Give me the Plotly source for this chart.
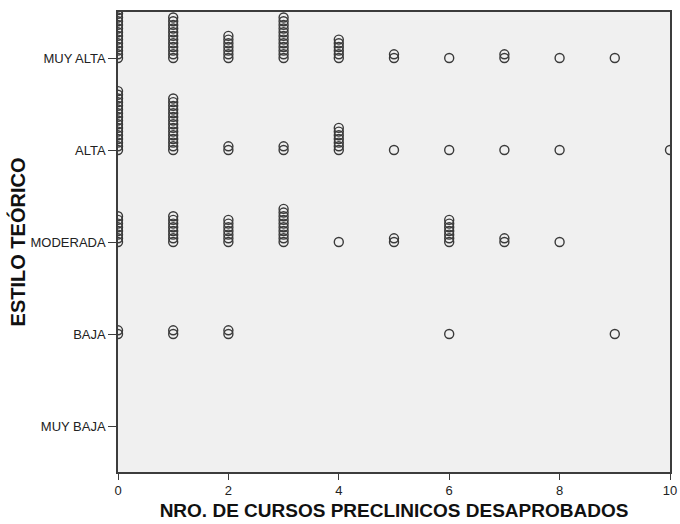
import plotly.graph_objects as go

# Ordinal levels of the theoretical style (bottom to top)
categories = ["MUY BAJA", "BAJA", "MODERADA", "ALTA", "MUY ALTA"]

# Number of failed preclinical courses observed per level: {courses: students}
counts_muy_alta = {0: 14, 1: 12, 2: 7, 3: 12, 4: 6, 5: 2, 6: 1, 7: 2, 8: 1, 9: 1}
counts_alta = {0: 17, 1: 15, 2: 2, 3: 2, 4: 7, 5: 1, 6: 1, 7: 1, 8: 1, 10: 1}
counts_moderada = {0: 8, 1: 8, 2: 7, 3: 10, 4: 1, 5: 2, 6: 7, 7: 2, 8: 1}
counts_baja = {0: 2, 1: 2, 2: 2, 6: 1, 9: 1}
counts_muy_baja = {}

x_ticks = [0, 2, 4, 6, 8, 10]

level_counts = [counts_muy_baja, counts_baja, counts_moderada, counts_alta, counts_muy_alta]

# Repeated observations are stacked upward from the level line
STACK_STEP = 0.04
xs, ys = [], []
for level, counts in enumerate(level_counts, start=1):
    for x, n in counts.items():
        for k in range(n):
            xs.append(x)
            ys.append(level + k * STACK_STEP)

fig = go.Figure(
    go.Scatter(
        x=xs, y=ys, mode="markers",
        marker=dict(symbol="circle-open", size=9, color="#3a3a3a", line=dict(width=1.4)),
        cliponaxis=True, hoverinfo="x+y",
    )
)

font_family = "Liberation Sans, Arial, sans-serif"
fig.update_layout(
    width=680, height=524,
    margin=dict(l=118, r=10, t=12, b=52),
    paper_bgcolor="white",
    plot_bgcolor="#f0f0f0",
    showlegend=False,
    font=dict(family=font_family, size=13, color="#222"),
)
fig.update_xaxes(
    range=[0, 10], tickvals=x_ticks, ticktext=[str(v) for v in x_ticks],
    showgrid=False, zeroline=False, automargin=False,
    showline=True, mirror=True, linecolor="#3c3c3c", linewidth=1.5,
    ticks="outside", ticklen=6, tickcolor="#3c3c3c",
    tickfont=dict(size=13, color="#222"),
    title=dict(text="<b>NRO. DE CURSOS PRECLINICOS DESAPROBADOS</b>",
               font=dict(size=19, color="#111"), standoff=6),
)
fig.update_yaxes(
    range=[0.5, 5.5], tickvals=[1, 2, 3, 4, 5], ticktext=categories,
    showgrid=False, zeroline=False, automargin=False,
    showline=True, mirror=True, linecolor="#3c3c3c", linewidth=1.5,
    ticks="outside", ticklen=8, tickcolor="#3c3c3c",
    tickfont=dict(size=13, color="#222"),
    title=dict(text="<b>ESTILO TEÓRICO</b>", font=dict(size=20, color="#111"), standoff=0),
)

fig.write_html("out.html")
